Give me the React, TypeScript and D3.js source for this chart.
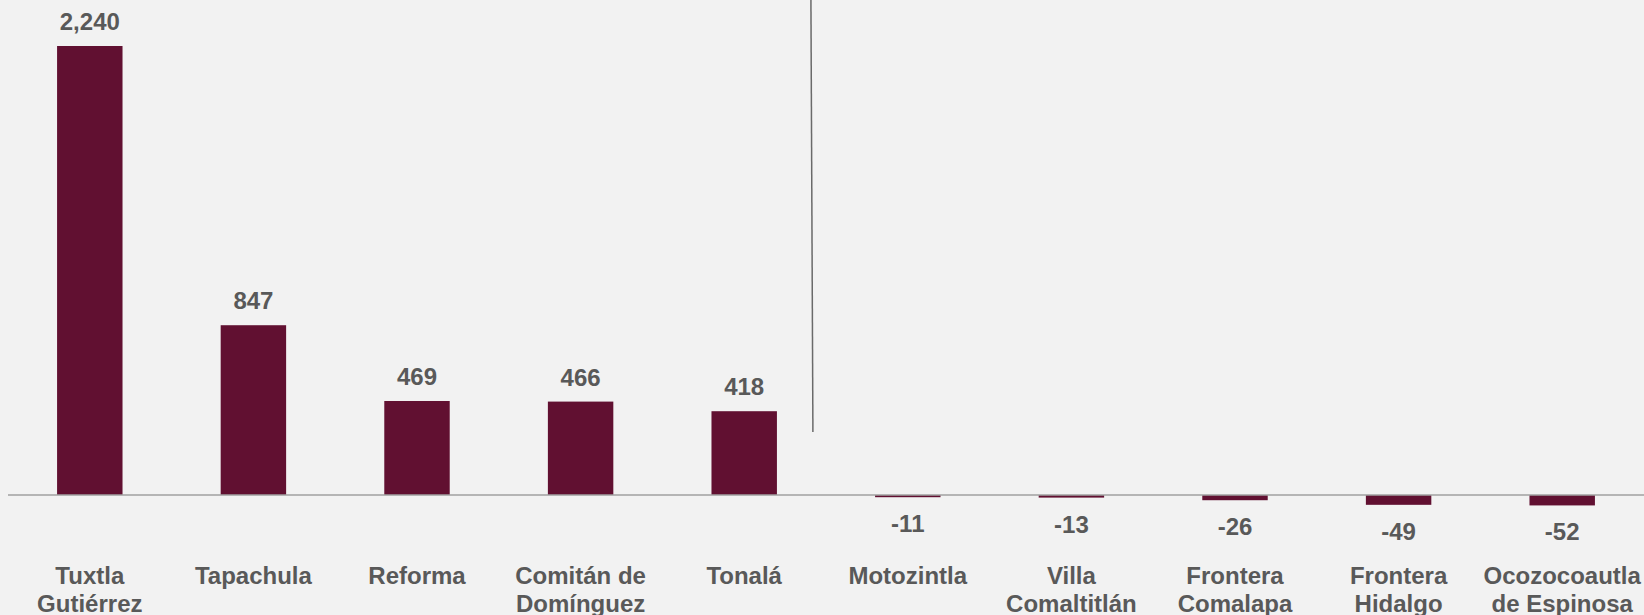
import React, { useRef, useEffect } from 'react';
import * as d3 from 'd3';

const categories = [
    "Tuxtla\nGutiérrez",
    "Tapachula",
    "Reforma",
    "Comitán de\nDomínguez",
    "Tonalá",
    "Motozintla",
    "Villa\nComaltitlán",
    "Frontera\nComalapa",
    "Frontera\nHidalgo",
    "Ocozocoautla\nde Espinosa",
];

const values = [2240, 847, 469, 466, 418, -11, -13, -26, -49, -52];

const App = () => {
    const svgRef = useRef<SVGSVGElement>(null);

    useEffect(() => {
        document.body.style.margin = "0";
        document.body.style.background = "#F2F2F2";

        const svg = d3.select(svgRef.current);
        svg.selectAll("*").remove();

        const width = 1644;
        const height = 615;
        const barColor = "#611031";
        const textColor = "#595959";
        const font = "'Liberation Sans', Arial, sans-serif";

        const data = categories.map((c, i) => ({ name: c, value: values[i] }));

        // Scales.
        const x = d3.scaleBand()
            .domain(categories)
            .range([8, width])
            .paddingInner(0.6)
            .paddingOuter(0.3);

        const y = d3.scaleLinear()
            .domain([0, 2240])
            .range([495, 46]);

        const format = d3.formatLocale({
            decimal: ".", thousands: ",", grouping: [3], currency: ["$", ""], minus: "-"
        }).format(",");

        svg
            .attr("width", width)
            .attr("height", height)
            .attr("viewBox", [0, 0, width, height])
            .attr("style", "display: block; position: absolute; left: 0; top: 0; background: #F2F2F2;");

        // Bars.
        svg.append("g")
            .selectAll("rect")
            .data(data)
            .join("rect")
            .attr("x", d => x(d.name))
            .attr("y", d => Math.min(y(d.value), y(0)))
            .attr("width", x.bandwidth())
            .attr("height", d => Math.abs(y(d.value) - y(0)))
            .attr("fill", barColor);

        // Zero line.
        svg.append("line")
            .attr("x1", 8)
            .attr("x2", width)
            .attr("y1", y(0))
            .attr("y2", y(0))
            .attr("stroke", "#A0A0A0")
            .attr("stroke-width", 1.5);

        // Separator between gains and losses.
        const sep = x(categories[4]) + x.bandwidth() + 35;
        svg.append("line")
            .attr("x1", sep - 1)
            .attr("x2", sep + 1)
            .attr("y1", 0)
            .attr("y2", 432)
            .attr("stroke", "#6A6A6A")
            .attr("stroke-width", 1.5);

        // Value labels.
        svg.append("g")
            .selectAll("text")
            .data(data)
            .join("text")
            .attr("x", d => x(d.name) + x.bandwidth() / 2)
            .attr("y", d => d.value >= 0 ? y(d.value) - 16 : y(d.value) + 35)
            .attr("text-anchor", "middle")
            .attr("font-family", font)
            .attr("font-weight", "bold")
            .attr("font-size", 24)
            .attr("fill", textColor)
            .text(d => format(d.value));

        // Category labels.
        svg.append("g")
            .selectAll("text")
            .data(data)
            .join("text")
            .attr("x", d => x(d.name) + x.bandwidth() / 2)
            .attr("y", 584)
            .attr("text-anchor", "middle")
            .attr("font-family", font)
            .attr("font-weight", "bold")
            .attr("font-size", 24)
            .attr("fill", textColor)
            .each(function (d) {
                const t = d3.select(this);
                d.name.split("\n").forEach((line, i) => {
                    t.append("tspan")
                        .attr("x", x(d.name) + x.bandwidth() / 2)
                        .attr("dy", i === 0 ? 0 : 28)
                        .text(line);
                });
            });
    }, []);

    return <svg ref={svgRef}></svg>;
};

export default App;
